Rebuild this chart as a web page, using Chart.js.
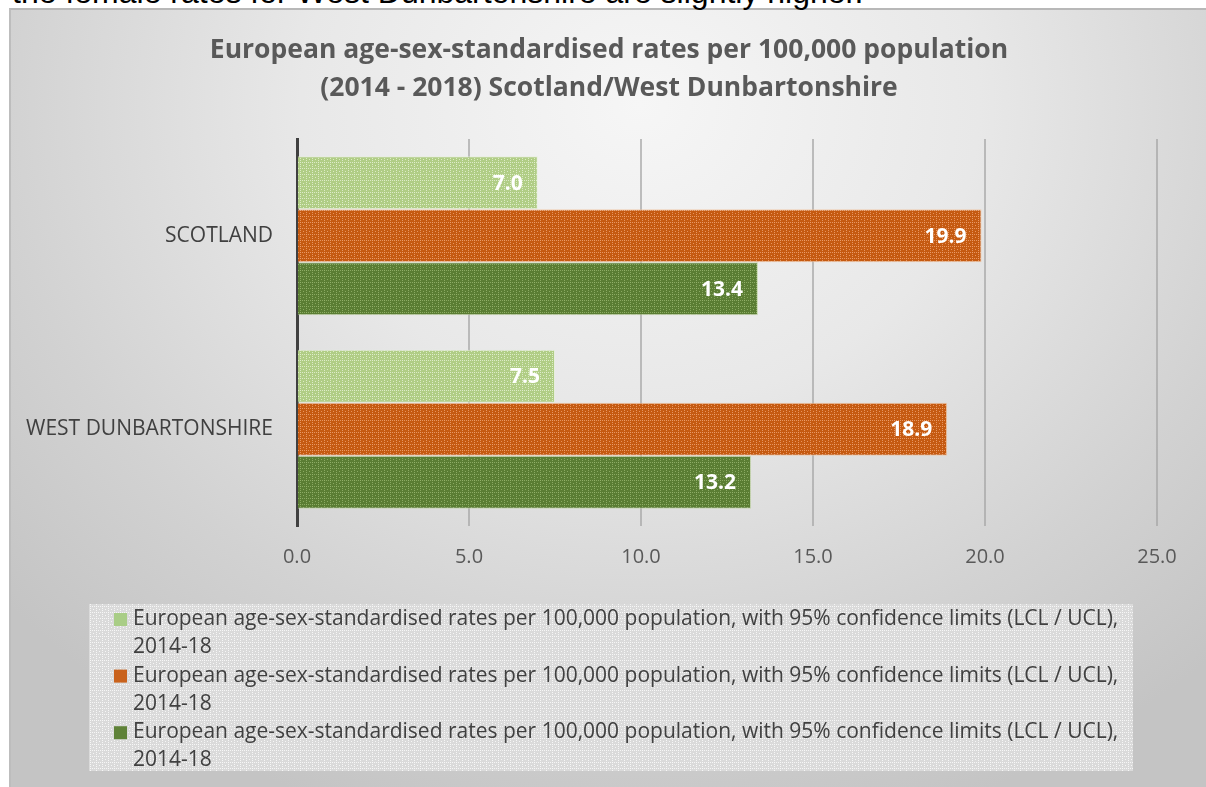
<!DOCTYPE html>
<html>
<head>
<meta charset="utf-8">
<script src="https://cdn.jsdelivr.net/npm/chart.js@4/dist/chart.umd.min.js"></script>
<style>
  html, body { margin: 0; padding: 0; background: #ffffff; overflow: hidden; }
  #page { position: relative; width: 1206px; height: 787px; }
  #lead {
    position: absolute; left: 12px; top: -24px; margin: 0;
    font-family: "Liberation Sans", Arial, sans-serif; font-size: 32px; line-height: 32px;
    color: #000000; white-space: nowrap;
  }
  #panel {
    position: absolute; left: 9px; top: 8px; width: 1210px; height: 790px;
    border-left: 2px solid #bdbdbd; border-top: 2px solid #b8b8b8;
    background: radial-gradient(ellipse 70% 95% at 52% 12%, #f6f6f6 0%, #e8e8e8 40%, #d2d2d2 75%, #c4c4c4 100%);
  }
  #chart { position: absolute; left: 0; top: 0; }
</style>
</head>
<body>
<div id="page">
  <div id="panel"></div>
  <p id="lead">the female rates for West Dunbartonshire are slightly higher.</p>
  <canvas id="chart" width="1206" height="787"></canvas>
</div>
<script>
// Chart content
const titleLines = [
  'European age-sex-standardised rates per 100,000 population',
  '(2014 - 2018) Scotland/West Dunbartonshire'
];
const categories = ['SCOTLAND', 'WEST DUNBARTONSHIRE'];
const seriesLabel = 'European age-sex-standardised rates per 100,000 population, with 95% confidence limits (LCL / UCL), 2014-18';
const seriesA = [7.0, 7.5];
const seriesB = [19.9, 18.9];
const seriesC = [13.4, 13.2];
const xTicks = [0, 5, 10, 15, 20, 25];

// Small textured fills (fine grid of lighter dots over a base colour)
function texture(base, light, size) {
  const c = document.createElement('canvas');
  c.width = size; c.height = size;
  const g = c.getContext('2d');
  g.fillStyle = base;
  g.fillRect(0, 0, size, size);
  g.fillStyle = light;
  for (let i = 0; i < size; i += 2) {
    g.fillRect(i, 0, 1, 1);
    g.fillRect(0, i, 1, 1);
  }
  g.fillRect(Math.floor(size / 2), Math.floor(size / 2), 1, 1);
  return g.createPattern(c, 'repeat');
}

const fillA = texture('#b0cd85', 'rgba(225,238,205,0.9)', 6);
const fillB = texture('#c55a11', 'rgba(236,160,110,0.85)', 6);
const fillC = texture('#5a7d33', 'rgba(150,180,110,0.8)', 6);
const swatchColors = ['#a9cd86', '#c9621c', '#5f8238'];
const legendFill = texture('#dadada', 'rgba(248,248,248,0.95)', 6);

const font = '"Open Sans", "Noto Sans", sans-serif';

// Two-line heading centred over the panel
const heading = {
  id: 'heading',
  afterDraw(chart) {
    const ctx = chart.ctx;
    ctx.save();
    ctx.font = 'bold 26.5px ' + font;
    ctx.fillStyle = '#595959';
    ctx.textAlign = 'center';
    ctx.textBaseline = 'middle';
    titleLines.forEach((t, i) => ctx.fillText(t, 609, 50 + i * 38));
    ctx.restore();
  }
};

// Value labels inside the end of each bar
const valueLabels = {
  id: 'valueLabels',
  afterDatasetsDraw(chart) {
    const ctx = chart.ctx;
    ctx.save();
    ctx.font = 'bold 21px ' + font;
    ctx.fillStyle = '#ffffff';
    ctx.textAlign = 'right';
    ctx.textBaseline = 'middle';
    chart.data.datasets.forEach((ds, di) => {
      const meta = chart.getDatasetMeta(di);
      meta.data.forEach((bar, i) => {
        ctx.fillText(ds.data[i].toFixed(1), bar.x - 15, bar.y + 1);
      });
    });
    ctx.restore();
  }
};

// Boxed legend below the axis, with wrapped series text
const boxedLegend = {
  id: 'boxedLegend',
  afterDraw(chart) {
    const ctx = chart.ctx;
    const box = { x: 89, y: 604, w: 1044, h: 167 };
    ctx.save();
    ctx.fillStyle = legendFill;
    ctx.fillRect(box.x, box.y, box.w, box.h);
    ctx.font = '21px ' + font;
    ctx.textBaseline = 'middle';
    ctx.textAlign = 'left';
    const textX = 133, maxW = 1000, lineH = 28.3;
    let y = 619;
    chart.data.datasets.forEach((ds, di) => {
      // wrap words onto lines
      const words = ds.label.split(' ');
      const lines = [];
      let cur = '';
      words.forEach(w => {
        const t = cur ? cur + ' ' + w : w;
        if (ctx.measureText(t).width > maxW && cur) { lines.push(cur); cur = w; }
        else cur = t;
      });
      lines.push(cur);
      ctx.fillStyle = swatchColors[di];
      ctx.fillRect(114, y - 6, 13, 13);
      ctx.fillStyle = '#404040';
      lines.forEach((ln, li) => ctx.fillText(ln, textX, y + li * lineH));
      y += lines.length * lineH;
    });
    ctx.restore();
  }
};

new Chart(document.getElementById('chart'), {
  type: 'bar',
  data: {
    labels: categories,
    datasets: [
      { label: seriesLabel, data: seriesA, backgroundColor: fillA, borderColor: 'rgba(230,240,215,0.7)', borderWidth: 1 },
      { label: seriesLabel, data: seriesB, backgroundColor: fillB, borderColor: 'rgba(240,190,150,0.7)', borderWidth: 1 },
      { label: seriesLabel, data: seriesC, backgroundColor: fillC, borderColor: 'rgba(190,210,160,0.7)', borderWidth: 1 }
    ]
  },
  options: {
    indexAxis: 'y',
    responsive: false,
    animation: false,
    devicePixelRatio: 1,
    layout: { padding: { left: 0, right: 49, top: 139, bottom: 201 } },
    datasets: { bar: { categoryPercentage: 0.822, barPercentage: 1.0 } },
    plugins: {
      legend: { display: false },
      tooltip: { enabled: false },
      title: { display: false }
    },
    scales: {
      x: {
        min: 0, max: 25,
        afterBuildTicks(scale) { scale.ticks = xTicks.map(v => ({ value: v })); },
        afterFit(scale) { scale.height = 60; },
        grid: { color: 'rgba(165,165,165,0.7)', lineWidth: 2, drawTicks: false },
        border: { display: false },
        ticks: {
          padding: 19,
          color: '#595959',
          font: { family: font, size: 20 },
          callback: v => Number(v).toFixed(1)
        }
      },
      y: {
        afterFit(scale) { scale.width = 297; },
        grid: { display: false, drawTicks: false },
        border: { display: true, color: '#404040', width: 3 },
        ticks: {
          padding: 24,
          color: '#404040',
          font: { family: font, size: 21 }
        }
      }
    }
  },
  plugins: [heading, valueLabels, boxedLegend]
});
</script>
</body>
</html>
